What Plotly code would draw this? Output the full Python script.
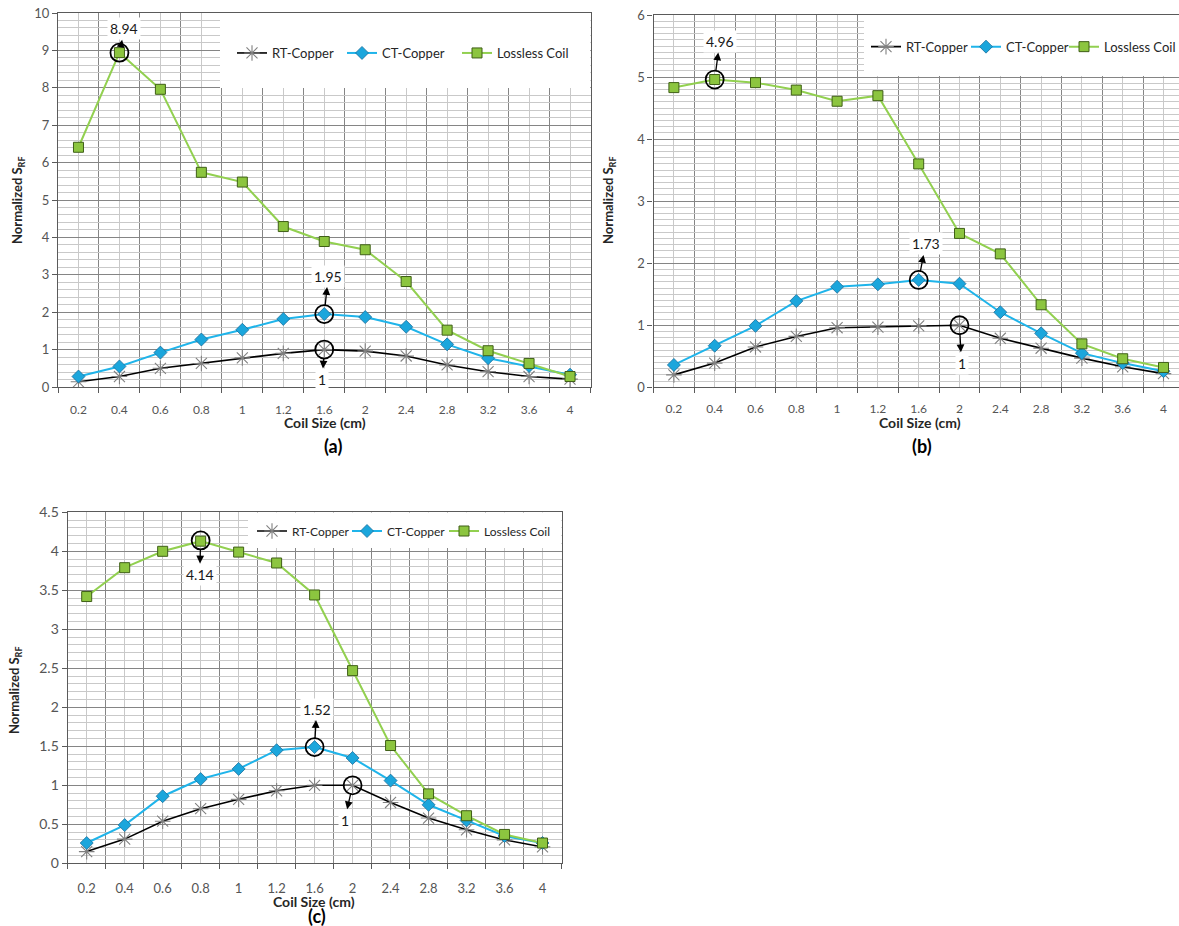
import plotly.graph_objects as go

# ---------------- data ----------------
coil_sizes = ["0.2", "0.4", "0.6", "0.8", "1", "1.2", "1.6", "2", "2.4", "2.8", "3.2", "3.6", "4"]
series_names = ["RT-Copper", "CT-Copper", "Lossless Coil"]

a_rt = [0.14, 0.28, 0.50, 0.63, 0.78, 0.90, 1.00, 0.96, 0.83, 0.59, 0.41, 0.28, 0.21]
a_ct = [0.28, 0.55, 0.92, 1.27, 1.53, 1.82, 1.95, 1.87, 1.61, 1.14, 0.77, 0.56, 0.33]
a_ll = [6.41, 8.94, 7.96, 5.74, 5.48, 4.29, 3.89, 3.67, 2.82, 1.52, 0.97, 0.63, 0.28]

b_rt = [0.20, 0.39, 0.65, 0.82, 0.96, 0.97, 0.99, 1.00, 0.79, 0.63, 0.47, 0.33, 0.22]
b_ct = [0.36, 0.67, 0.99, 1.39, 1.62, 1.66, 1.73, 1.67, 1.21, 0.87, 0.55, 0.39, 0.26]
b_ll = [4.83, 4.96, 4.91, 4.79, 4.61, 4.70, 3.60, 2.48, 2.15, 1.33, 0.70, 0.46, 0.32]

c_rt = [0.15, 0.31, 0.54, 0.70, 0.82, 0.93, 1.00, 1.00, 0.78, 0.58, 0.43, 0.30, 0.21]
c_ct = [0.26, 0.49, 0.86, 1.08, 1.21, 1.45, 1.49, 1.35, 1.06, 0.75, 0.55, 0.35, 0.26]
c_ll = [3.42, 3.79, 4.00, 4.13, 3.99, 3.85, 3.44, 2.47, 1.51, 0.89, 0.61, 0.37, 0.26]

# callouts: (category label, series value, text)
callouts_a = [("1.6", 1.00, "1"), ("1.6", 1.95, "1.95"), ("0.4", 8.94, "8.94")]
callouts_b = [("2", 1.00, "1"), ("1.6", 1.73, "1.73"), ("0.4", 4.96, "4.96")]
callouts_c = [("2", 1.00, "1"), ("1.6", 1.49, "1.52"), ("0.8", 4.14, "4.14")]

panel_labels = ["(a)", "(b)", "(c)"]

# ---------------- layout geometry (pixels) ----------------
W, H = 1179, 926
FONT = "Lato, 'Open Sans', sans-serif"
AXIS = "#5a5a5a"
MAJOR_GRID = "#858585"
MINOR_GRID = "#c9c9c9"

panels = {
    "a": dict(left=58, right=590.5, top=13, bottom=387, ymax=10, dtick=1, minor=0.2,
              xmax=12.5, tickfs=12, ymirror=True, labelgap=20),
    "b": dict(left=653.5, right=1179, top=15, bottom=387.3, ymax=6, dtick=1, minor=0.1,
              xmax=12.38, tickfs=12, ymirror=False, labelgap=19),
    "c": dict(left=67.7, right=561.5, top=512.3, bottom=863.3, ymax=4.5, dtick=0.5, minor=0.1,
              xmax=12.5, tickfs=13, ymirror=True, labelgap=22),
}

idx = list(range(len(coil_sizes)))
bounds = [i - 0.5 for i in range(len(coil_sizes) + 1)]

styles = [
    dict(line=dict(color="#000000", width=1.6),
         marker=dict(symbol="asterisk-open", size=13, color="#808080",
                     line=dict(color="#808080", width=1.1))),
    dict(line=dict(color="#1fb4ea", width=2),
         marker=dict(symbol="diamond", size=10, color="#1ba6dc",
                     line=dict(color="#1a6f9c", width=0.8))),
    dict(line=dict(color="#92d050", width=2),
         marker=dict(symbol="square", size=10, color="#8cc53f",
                     line=dict(color="#3f5f17", width=1))),
]

fig = go.Figure()
layout = dict(width=W, height=H, margin=dict(l=0, r=0, t=0, b=0, autoexpand=False),
              paper_bgcolor="white", plot_bgcolor="white", template="none",
              font=dict(family=FONT, color="#404040"), showlegend=True)

data_sets = {"a": [a_rt, a_ct, a_ll], "b": [b_rt, b_ct, b_ll], "c": [c_rt, c_ct, c_ll]}
callouts = {"a": callouts_a, "b": callouts_b, "c": callouts_c}
# legend entry text start x, centre y, font size
legend_text_x = {"a": [262, 372, 487], "b": [896, 996, 1094], "c": [282, 377, 474]}
legend_y = {"a": 53, "b": 46.7, "c": 531}
legend_fs = {"a": 13, "b": 13, "c": 12}
legend_boxes = {"a": (220, 13, 590.5, 88), "b": (864, 15, 1179, 76), "c": (248, 512.3, 561.5, 548)}
xtitle_pos = {"a": (325, 422), "b": (920, 423), "c": (314, 901)}
plabel_pos = {"a": (333, 446), "b": (922, 446), "c": (317, 916)}
ytitle_pos = {"a": (18, 200), "b": (609, 200), "c": (15, 690)}
callout_offsets = {
    "a": [(-2, 30), (4, -38), (5, -24)],
    "b": [(2, 38), (7, -36), (5, -38)],
    "c": [(-8, 35), (2, -38), (-1, 34)],
}
LEGEND_TEXT_OFFSET = 30

shapes = []
annotations = []

for n, key in enumerate(["a", "b", "c"]):
    p = panels[key]
    suffix = "" if n == 0 else str(n + 1)
    xname, yname = "x" + suffix, "y" + suffix
    pw = p["right"] - p["left"]
    ph = p["bottom"] - p["top"]

    def xd(px):
        return -0.5 + (px - p["left"]) / pw * (p["xmax"] + 0.5)

    def yd(py):
        return (p["bottom"] - py) / ph * p["ymax"]

    # white area behind the legend (drawn above gridlines, below the series)
    bx0, by0, bx1, by1 = legend_boxes[key]
    fig.add_trace(go.Scatter(x=[xd(bx0), xd(bx1), xd(bx1), xd(bx0), xd(bx0)],
                             y=[yd(by1), yd(by1), yd(by0), yd(by0), yd(by1)],
                             mode="lines", fill="toself", fillcolor="white",
                             line=dict(width=0, color="white"), showlegend=False,
                             hoverinfo="skip", xaxis=xname, yaxis=yname))

    for s, (name, vals) in enumerate(zip(series_names, data_sets[key])):
        lnum = n * 3 + s + 1
        legname = "legend" if lnum == 1 else "legend" + str(lnum)
        fig.add_trace(go.Scatter(x=idx, y=vals, name=name, mode="lines+markers",
                                 xaxis=xname, yaxis=yname, legend=legname,
                                 line=styles[s]["line"], marker=styles[s]["marker"],
                                 hoverinfo="skip"))
        lx = legend_text_x[key][s] - LEGEND_TEXT_OFFSET
        layout[legname] = dict(x=lx / W, y=1 - legend_y[key] / H, xanchor="left",
                               yanchor="middle", orientation="h", bgcolor="rgba(0,0,0,0)",
                               font=dict(family=FONT, size=legend_fs[key], color="#262626"),
                               itemclick=False, itemdoubleclick=False)

    layout["xaxis" + suffix] = dict(
        domain=[p["left"] / W, p["right"] / W], anchor=yname, range=[-0.5, p["xmax"]],
        automargin=False,
        tickmode="array", tickvals=idx, ticktext=coil_sizes,
        showgrid=True, gridcolor=MINOR_GRID, gridwidth=1,
        ticks="outside", ticklen=p["labelgap"] - 9, tickcolor="rgba(0,0,0,0)",
        showline=True, linecolor=AXIS, linewidth=1.2, mirror=True, zeroline=False,
        tickfont=dict(family=FONT, size=p["tickfs"], color="#555555"),
        minor=dict(tickmode="array", tickvals=bounds, showgrid=True, gridcolor=MAJOR_GRID,
                   gridwidth=1.1, ticks="outside", ticklen=5, tickcolor=AXIS),
    )
    layout["yaxis" + suffix] = dict(
        domain=[1 - p["bottom"] / H, 1 - p["top"] / H], anchor=xname, range=[0, p["ymax"]],
        automargin=False,
        tick0=0, dtick=p["dtick"], showgrid=True, gridcolor=MAJOR_GRID, gridwidth=1.1,
        ticks="outside", ticklen=5, tickcolor=AXIS,
        showline=True, linecolor=AXIS, linewidth=1.2, mirror=p["ymirror"], zeroline=False,
        tickfont=dict(family=FONT, size=p["tickfs"] + 1, color="#555555"),
        minor=dict(dtick=p["minor"], tick0=0, showgrid=True, gridcolor=MINOR_GRID, gridwidth=1),
    )

    # callouts: circle + arrow + label
    for (cat, val, txt), (ax, ay) in zip(callouts[key], callout_offsets[key]):
        ci = coil_sizes.index(cat)
        shapes.append(dict(type="circle", xref=xname, yref=yname, xsizemode="pixel",
                           ysizemode="pixel", xanchor=ci, yanchor=val,
                           x0=-9, x1=9, y0=-9, y1=9, line=dict(color="black", width=1.8),
                           layer="above"))
        annotations.append(dict(x=ci, y=val, xref=xname, yref=yname, text=txt,
                                showarrow=True, ax=ax, ay=ay, axref="pixel", ayref="pixel",
                                arrowside="start", startarrowhead=2, startarrowsize=1.2,
                                arrowwidth=1.3, arrowcolor="black", standoff=9,
                                bgcolor="white", borderpad=2,
                                font=dict(family=FONT, size=14, color="#1a1a1a")))

    # axis titles and panel labels
    tx, ty = xtitle_pos[key]
    annotations.append(dict(x=tx / W, y=1 - ty / H, xref="paper", yref="paper",
                            xanchor="center", yanchor="middle",
                            text="<b>Coil Size (cm)</b>", showarrow=False,
                            font=dict(family=FONT, size=14, color="#262626")))
    px_, py_ = plabel_pos[key]
    annotations.append(dict(x=px_ / W, y=1 - py_ / H, xref="paper", yref="paper",
                            xanchor="center", yanchor="middle",
                            text="<b>" + panel_labels[n] + "</b>", showarrow=False,
                            font=dict(family=FONT, size=18, color="#000000")))
    yx, yy = ytitle_pos[key]
    annotations.append(dict(x=yx / W, y=1 - yy / H, xref="paper", yref="paper",
                            xanchor="center", yanchor="middle",
                            text="<b>Normalized S<sub>RF</sub></b>", showarrow=False,
                            textangle=-90,
                            font=dict(family=FONT, size=13, color="#262626")))

layout["shapes"] = shapes
layout["annotations"] = annotations
fig.update_layout(**layout)

fig.write_html("out.html", config={"displayModeBar": False},
               post_script="document.body.style.margin='0';document.body.style.overflow='hidden';")
